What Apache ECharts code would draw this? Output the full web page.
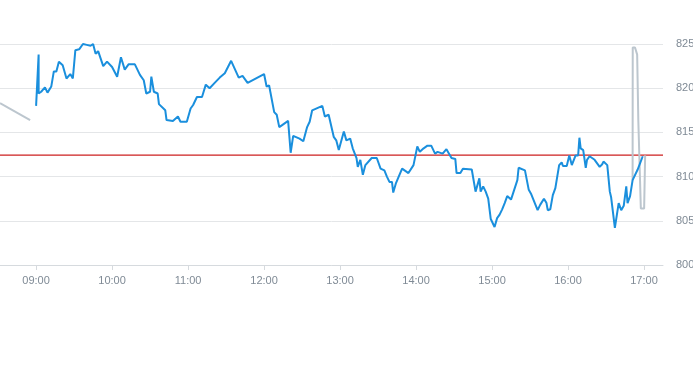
<!DOCTYPE html>
<html>
<head>
<meta charset="utf-8">
<script src="https://cdn.jsdelivr.net/npm/echarts@6/dist/echarts.min.js"></script>
<style>
html,body{margin:0;padding:0;background:#fff;}
#chart{width:693px;height:365px;}
</style>
</head>
<body>
<div id="chart"></div>
<script>
var AXIS_MIN = '08:31:30';
var AXIS_MAX = '17:15:00';
var REF_PRICE = 812.44;
var Y_MIN = 800, Y_MAX = 825, Y_STEP = 5;

var preTimes = ['08:31:30', '08:55:18'];
var preValues = [818.3, 816.4];

var mainTimes = ['09:00','09:02','09:02','09:04','09:07','09:09','09:12','09:14','09:16','09:18','09:21','09:24','09:27','09:29','09:31','09:34','09:37','09:40','09:43','09:45','09:47','09:49','09:53','09:56','10:00','10:04','10:07','10:10','10:13','10:18','10:22','10:25','10:27','10:30','10:31','10:33','10:36','10:37','10:42','10:43','10:48','10:52','10:54','10:59','11:02','11:04','11:07','11:11','11:14','11:17','11:21','11:25','11:29','11:34','11:40','11:43','11:47','12:00','12:02','12:04','12:08','12:10','12:12','12:14','12:19','12:21','12:23','12:28','12:31','12:34','12:36','12:38','12:46','12:48','12:51','12:55','12:57','12:59','13:03','13:05','13:08','13:10','13:13','13:14','13:16','13:18','13:20','13:25','13:29','13:32','13:35','13:37','13:39','13:41','13:42','13:44','13:49','13:54','13:58','13:59','14:01','14:03','14:06','14:09','14:12','14:15','14:17','14:21','14:24','14:28','14:31','14:32','14:35','14:37','14:44','14:47','14:50','14:51','14:53','14:55','14:57','14:59','15:02','15:04','15:06','15:08','15:10','15:12','15:15','15:20','15:21','15:26','15:29','15:31','15:36','15:38','15:41','15:43','15:44','15:46','15:48','15:50','15:53','15:55','15:56','15:59','16:01','16:03','16:04','16:06','16:08','16:09','16:10','16:12','16:14','16:15','16:17','16:19','16:21','16:25','16:27','16:28','16:31','16:33','16:34','16:37','16:38','16:40','16:42','16:44','16:46','16:47','16:49','16:51','16:55','16:59'];
var mainValues = [818.0,823.8,819.4,819.6,820.1,819.5,820.2,821.9,821.9,823.0,822.6,821.1,821.6,821.1,824.3,824.4,825.0,824.9,824.8,825.0,823.9,824.2,822.5,823.0,822.4,821.3,823.5,822.1,822.7,822.7,821.5,820.9,819.4,819.6,821.3,819.6,819.4,818.2,817.5,816.4,816.3,816.8,816.2,816.2,817.7,818.1,819.0,819.0,820.4,820.0,820.6,821.2,821.7,823.1,821.2,821.4,820.6,821.6,820.2,820.3,817.3,817.0,815.6,815.8,816.3,812.7,814.6,814.3,814.0,815.6,816.2,817.5,818.0,816.8,817.0,814.5,814.1,813.0,815.1,814.1,814.3,813.2,812.1,811.1,811.9,810.2,811.3,812.1,812.1,810.9,810.7,810.0,809.4,809.4,808.2,809.2,810.9,810.4,811.3,811.4,813.4,812.8,813.2,813.5,813.5,812.6,812.8,812.6,813.1,812.1,812.0,810.4,810.4,810.9,810.8,808.3,809.8,808.3,808.9,808.3,807.5,805.2,804.3,805.3,805.7,806.3,807.0,807.8,807.4,809.6,811.0,810.7,808.5,808.0,806.2,806.8,807.5,807.0,806.2,806.3,807.9,808.7,811.3,811.6,811.2,811.2,812.4,811.3,811.2,812.4,812.4,814.4,813.2,813.0,811.0,811.9,812.3,812.1,811.9,811.1,811.4,811.7,811.3,808.3,807.7,804.2,804.3,807.0,806.2,806.7,808.9,807.0,807.8,809.6,810.8,812.3];

var postTimes = ['16:51:00','16:51:06','16:52:54','16:54:36','16:55:30','16:56:54','16:57:30','17:00:06','17:00:54'];
var postValues = [809.6,824.6,824.6,823.8,816.4,816.4,806.4,806.4,812.4];

function ts(t){
  var p = t.split(':');
  return new Date(2024, 0, 2, +p[0], +p[1], p[2] ? +p[2] : 0).getTime();
}
function pairs(times, values){
  return times.map(function(t, i){ return [ts(t), values[i]]; });
}

var chart = echarts.init(document.getElementById('chart'), null, {renderer: 'canvas'});
var labelColor = '#7f8a95';
chart.setOption({
  animation: false,
  backgroundColor: '#ffffff',
  textStyle: {fontFamily: 'Liberation Sans, Arial, sans-serif'},
  grid: {left: 0, right: 30, top: 44, bottom: 100, containLabel: false, outerBoundsMode: 'none'},
  xAxis: {
    type: 'time',
    min: ts(AXIS_MIN),
    max: ts(AXIS_MAX),
    minInterval: 3600 * 1000,
    maxInterval: 3600 * 1000,
    axisLine: {show: true, lineStyle: {color: '#d6dade', width: 1}},
    axisTick: {show: true, length: 5, lineStyle: {color: '#d6dade'}},
    splitLine: {show: false},
    axisLabel: {
      color: labelColor, fontSize: 11, margin: 10,
      formatter: function(v){ return echarts.time.format(v, '{HH}:{mm}', false); }
    }
  },
  yAxis: {
    type: 'value',
    position: 'right',
    min: Y_MIN, max: Y_MAX, interval: Y_STEP,
    axisLine: {show: false},
    axisTick: {show: false},
    splitLine: {show: true, lineStyle: {color: '#e4e6e8', width: 1}},
    axisLabel: {color: labelColor, fontSize: 11, margin: 13}
  },
  series: [
    {
      type: 'line', data: [[ts(AXIS_MIN), REF_PRICE], [ts(AXIS_MAX), REF_PRICE]], symbol: 'none',
      lineStyle: {color: '#cc1f1f', width: 1.2}, silent: true, z: 1
    },
    {
      type: 'line', data: pairs(preTimes, preValues), symbol: 'none',
      lineStyle: {color: '#bcc6ce', width: 2}, silent: true, z: 2
    },
    {
      type: 'line', data: pairs(postTimes, postValues), symbol: 'none',
      lineStyle: {color: '#bcc6ce', width: 2}, silent: true, z: 2
    },
    {
      type: 'line', data: pairs(mainTimes, mainValues), symbol: 'none',
      lineStyle: {color: '#1a8fdd', width: 2}, silent: true, z: 3
    }
  ]
});
</script>
</body>
</html>
